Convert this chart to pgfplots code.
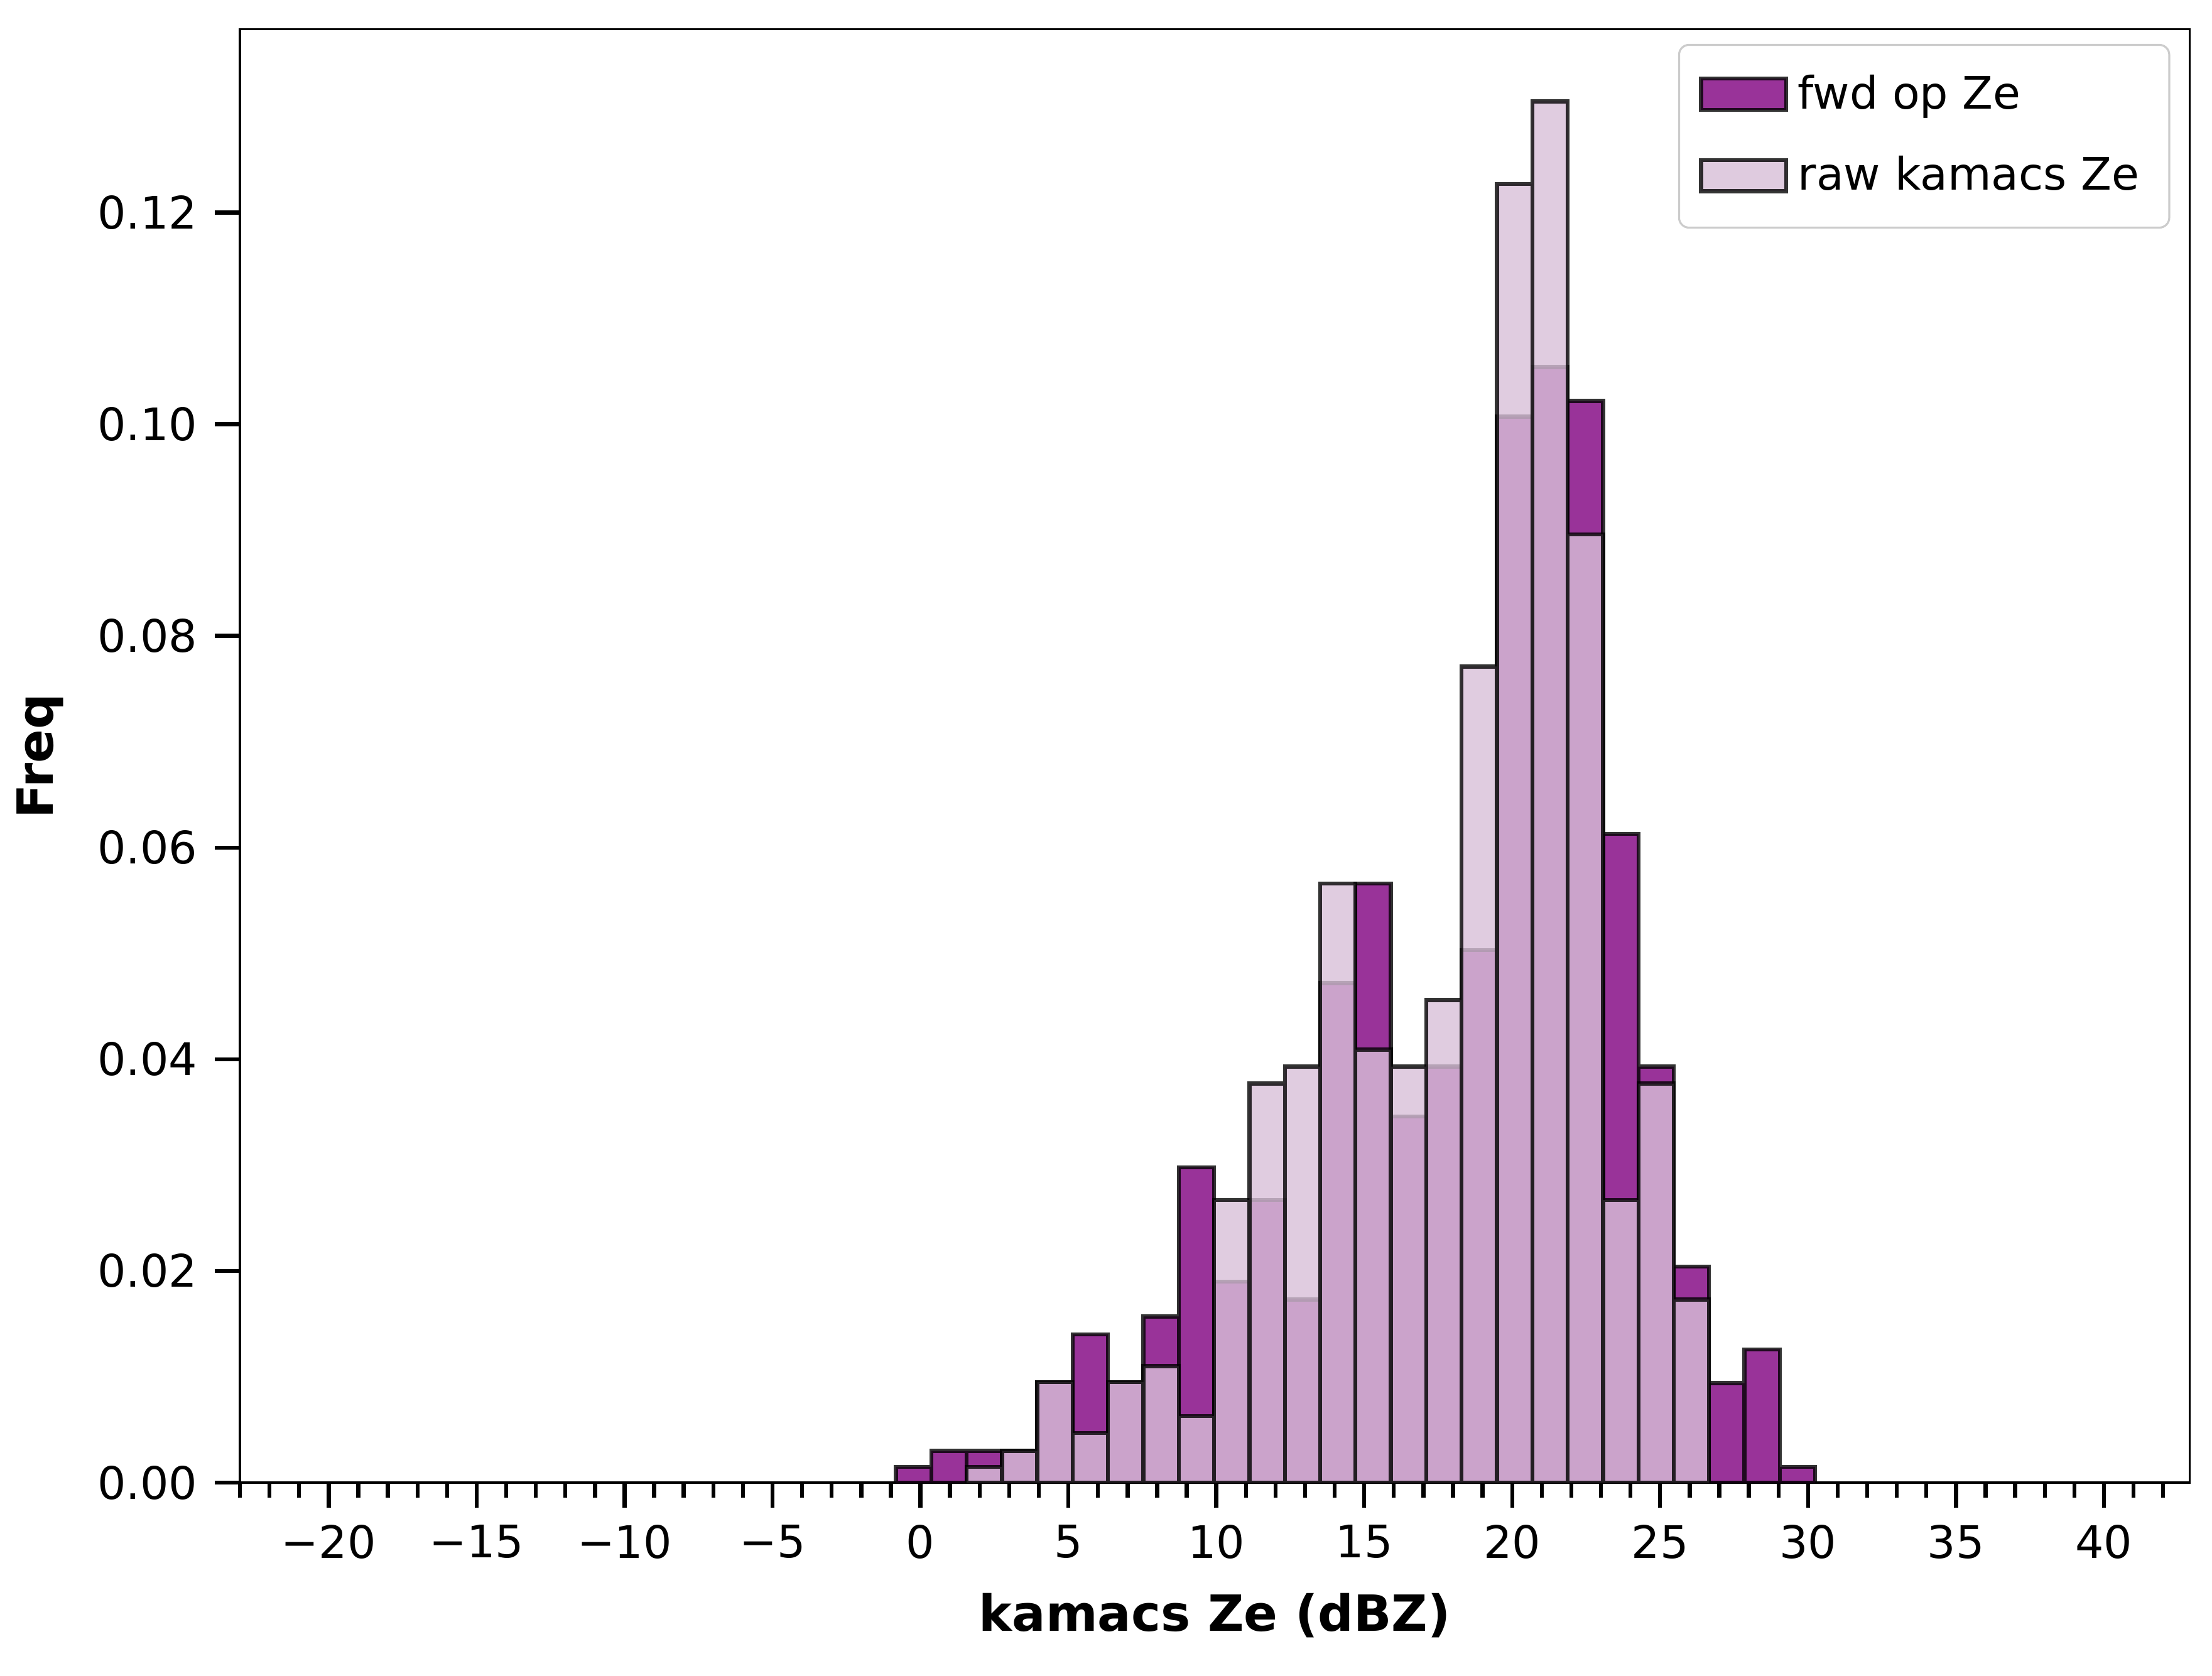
\documentclass[border=0pt]{standalone}
\usepackage{pgfplots}
\pgfplotsset{compat=1.18}
\usepackage{fontspec}
\setmainfont{DejaVu Sans}
\definecolor{fwd}{RGB}{128,0,128}
\definecolor{raw}{RGB}{216,191,216}
\begin{document}
\begin{tikzpicture}
\begin{axis}[
  scale only axis, width=13.75cm, height=10.25cm,
  xmin=-23, xmax=42.9, ymin=0, ymax=0.1373,
  xtick={-20,-15,...,40}, minor xtick={-23,-22,...,42},
  xticklabels={−20,−15,−10,−5,0,5,10,15,20,25,30,35,40},
  ytick={0,0.02,...,0.12},
  yticklabel style={/pgf/number format/.cd,fixed,fixed zerofill,precision=2},
  /pgf/number format/assume math mode=true,
  tick align=outside, tick pos=left,
  major tick length=5pt, minor tick length=3pt,
  every tick/.style={black, line width=0.8pt},
  tick label style={font=\small},
  xlabel={\textbf{kamacs Ze (dBZ)}}, ylabel={\textbf{Freq}},
  label style={font=\normalsize},
  legend style={at={(0.99,0.99)}, anchor=north east, font=\small, draw=black!20, rounded corners=2pt, row sep=4pt, inner sep=4pt},
  legend cell align=left,
  legend image code/.code={\draw[#1, sharp corners] (0cm,-0.1cm) rectangle (0.6cm,0.12cm);},
]
\addplot[ybar interval, fill=fwd, fill opacity=0.8, draw=black, draw opacity=0.8, line width=0.8pt]
 table {
x y
-0.830 0.0015
0.365 0.003
1.560 0.003
2.755 0.003
3.950 0.0095
5.145 0.014
6.340 0.0095
7.535 0.0157
8.730 0.0298
9.925 0.019
11.120 0.0267
12.315 0.0173
13.510 0.0472
14.705 0.0566
15.900 0.0346
17.095 0.0393
18.290 0.0503
19.485 0.1007
20.680 0.1054
21.875 0.1022
23.070 0.0613
24.265 0.0393
25.460 0.0204
26.655 0.0094
27.850 0.0126
29.045 0.0015
30.240 0.0015
};
\addlegendentry{fwd op Ze}
\addplot[ybar interval, fill=raw, fill opacity=0.8, draw=black, draw opacity=0.8, line width=0.8pt]
 table {
x y
1.560 0.0015
2.755 0.003
3.950 0.0095
5.145 0.0047
6.340 0.0095
7.535 0.011
8.730 0.0063
9.925 0.0267
11.120 0.0377
12.315 0.0393
13.510 0.0566
14.705 0.0409
15.900 0.0393
17.095 0.0456
18.290 0.0771
19.485 0.1227
20.680 0.1305
21.875 0.0896
23.070 0.0267
24.265 0.0377
25.460 0.0173
26.655 0.0173
};
\addlegendentry{raw kamacs Ze}
\end{axis}
\path (current axis.outer north east) ++(0.15cm,0.2cm);
\path (current axis.outer south west) ++(0,-0.15cm);
\end{tikzpicture}
\end{document}
